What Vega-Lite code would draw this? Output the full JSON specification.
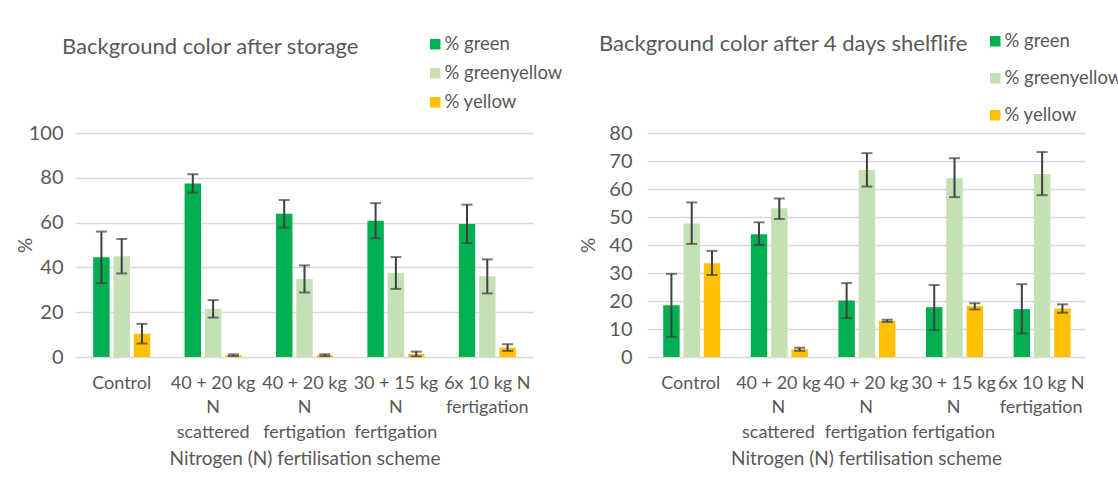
{
  "$schema": "https://vega.github.io/schema/vega-lite/v6.json",
  "padding": {"left": 16, "top": 32, "right": 0, "bottom": 0},
  "background": "white",
  "datasets": {
    "storage": [
      {"scheme": "Control", "series": "% green", "value": 44.5, "lo": 33, "hi": 56},
      {"scheme": "Control", "series": "% greenyellow", "value": 45, "lo": 37.3, "hi": 52.7},
      {"scheme": "Control", "series": "% yellow", "value": 10.4, "lo": 6, "hi": 14.8},
      {"scheme": "40 + 20 kg N scattered", "series": "% green", "value": 77.5, "lo": 73.4, "hi": 81.6},
      {"scheme": "40 + 20 kg N scattered", "series": "% greenyellow", "value": 21.5, "lo": 17.6, "hi": 25.4},
      {"scheme": "40 + 20 kg N scattered", "series": "% yellow", "value": 0.8, "lo": 0.4, "hi": 1.2},
      {"scheme": "40 + 20 kg N fertigation", "series": "% green", "value": 63.9, "lo": 57.7, "hi": 70.1},
      {"scheme": "40 + 20 kg N fertigation", "series": "% greenyellow", "value": 34.8, "lo": 28.8, "hi": 40.9},
      {"scheme": "40 + 20 kg N fertigation", "series": "% yellow", "value": 0.8, "lo": 0.4, "hi": 1.2},
      {"scheme": "30 + 15 kg N fertigation", "series": "% green", "value": 60.8, "lo": 53, "hi": 68.7},
      {"scheme": "30 + 15 kg N fertigation", "series": "% greenyellow", "value": 37.5, "lo": 30.4, "hi": 44.6},
      {"scheme": "30 + 15 kg N fertigation", "series": "% yellow", "value": 1.3, "lo": 0.3, "hi": 2.4},
      {"scheme": "6x 10 kg N fertigation", "series": "% green", "value": 59.4, "lo": 50.9, "hi": 68},
      {"scheme": "6x 10 kg N fertigation", "series": "% greenyellow", "value": 36, "lo": 28.4, "hi": 43.6},
      {"scheme": "6x 10 kg N fertigation", "series": "% yellow", "value": 4.2, "lo": 2.7, "hi": 5.7}
    ],
    "shelf": [
      {"scheme": "Control", "series": "% green", "value": 18.5, "lo": 7.2, "hi": 29.7},
      {"scheme": "Control", "series": "% greenyellow", "value": 47.7, "lo": 40.4, "hi": 55.2},
      {"scheme": "Control", "series": "% yellow", "value": 33.5, "lo": 29.3, "hi": 37.9},
      {"scheme": "40 + 20 kg N scattered", "series": "% green", "value": 43.8, "lo": 40, "hi": 48.1},
      {"scheme": "40 + 20 kg N scattered", "series": "% greenyellow", "value": 53.1, "lo": 49.3, "hi": 56.6},
      {"scheme": "40 + 20 kg N scattered", "series": "% yellow", "value": 2.8, "lo": 2.2, "hi": 3.3},
      {"scheme": "40 + 20 kg N fertigation", "series": "% green", "value": 20.2, "lo": 13.9, "hi": 26.4},
      {"scheme": "40 + 20 kg N fertigation", "series": "% greenyellow", "value": 66.8, "lo": 60.9, "hi": 72.8},
      {"scheme": "40 + 20 kg N fertigation", "series": "% yellow", "value": 12.9, "lo": 12.5, "hi": 13.3},
      {"scheme": "30 + 15 kg N fertigation", "series": "% green", "value": 17.8, "lo": 9.6, "hi": 25.7},
      {"scheme": "30 + 15 kg N fertigation", "series": "% greenyellow", "value": 63.8, "lo": 57.1, "hi": 71},
      {"scheme": "30 + 15 kg N fertigation", "series": "% yellow", "value": 18.2, "lo": 17, "hi": 19.2},
      {"scheme": "6x 10 kg N fertigation", "series": "% green", "value": 17.1, "lo": 8.4, "hi": 26},
      {"scheme": "6x 10 kg N fertigation", "series": "% greenyellow", "value": 65.4, "lo": 57.8, "hi": 73.2},
      {"scheme": "6x 10 kg N fertigation", "series": "% yellow", "value": 17.3, "lo": 15.8, "hi": 18.8}
    ]
  },
  "config": {
    "font": "Lato",
    "view": {"stroke": null},
    "axis": {"labelFont": "Lato", "titleFont": "Lato", "labelColor": "#595959", "titleColor": "#595959", "titleFontWeight": "normal"},
    "legend": {"labelFont": "Lato", "labelColor": "#595959"},
    "title": {"font": "Lato", "color": "#595959", "fontWeight": "normal", "fontSize": 22, "anchor": "start", "frame": "group"}
  },
  "spacing": 16,
  "resolve": {"scale": {"color": "independent"}, "legend": {"color": "independent"}},
  "hconcat": [
    {
      "title": {"text": "Background color after storage", "dx": -14, "dy": 28},
      "width": 457,
      "height": 224,
      "data": {"name": "storage"},
      "encoding": {
        "x": {
          "field": "scheme", "type": "nominal",
          "sort": ["Control", "40 + 20 kg N scattered", "40 + 20 kg N fertigation", "30 + 15 kg N fertigation", "6x 10 kg N fertigation"],
          "scale": {"paddingInner": 0.376, "paddingOuter": 0.188},
          "title": "Nitrogen (N) fertilisation scheme",
          "axis": {
            "labelAngle": 0, "domain": false, "ticks": false, "labelFontSize": 18, "titleFontSize": 19,
            "labelPadding": 17, "titlePadding": 8, "labelLineHeight": 24.5,
            "labelExpr": "datum.value == 'Control' ? 'Control' : datum.value == '40 + 20 kg N scattered' ? ['40 + 20 kg', 'N', 'scattered'] : datum.value == '40 + 20 kg N fertigation' ? ['40 + 20 kg', 'N', 'fertigation'] : datum.value == '30 + 15 kg N fertigation' ? ['30 + 15 kg', 'N', 'fertigation'] : ['6x 10 kg N', 'fertigation']"
          }
        },
        "xOffset": {"field": "series", "type": "nominal", "sort": ["% green", "% greenyellow", "% yellow"], "scale": {"paddingInner": 0.19}}
      },
      "layer": [
        {
          "mark": {"type": "bar"},
          "encoding": {
            "y": {"field": "value", "type": "quantitative", "title": "%",
              "scale": {"domain": [0, 100]},
              "axis": {"values": [0, 20, 40, 60, 80, 100], "labelOverlap": false, "domain": false, "ticks": false, "gridColor": "#D9D9D9", "gridWidth": 1.5, "labelFontSize": 20, "labelPadding": 13, "titleFontSize": 19, "titlePadding": -7}},
            "color": {"field": "series", "type": "nominal",
              "scale": {"domain": ["% green", "% greenyellow", "% yellow"], "range": ["#00B050", "#C5E0B4", "#FFC000"]},
              "legend": {"orient": "none", "legendX": 350, "legendY": -98, "title": null, "symbolType": "square", "symbolSize": 110, "symbolStrokeWidth": 0, "labelFontSize": 18.5, "labelOffset": 0, "rowPadding": 10}}
          }
        },
        {
          "mark": {"type": "rule", "color": "#404040", "strokeWidth": 2},
          "encoding": {"y": {"field": "lo", "type": "quantitative", "title": "%",
              "axis": {"values": [0, 20, 40, 60, 80, 100], "labelOverlap": false, "domain": false, "ticks": false, "gridColor": "#D9D9D9", "gridWidth": 1.5, "labelFontSize": 20, "labelPadding": 13, "titleFontSize": 19, "titlePadding": -7}}, "y2": {"field": "hi"}}
        },
        {
          "mark": {"type": "tick", "color": "#404040", "thickness": 2, "size": 11},
          "encoding": {"y": {"field": "lo", "type": "quantitative", "title": "%",
              "axis": {"values": [0, 20, 40, 60, 80, 100], "labelOverlap": false, "domain": false, "ticks": false, "gridColor": "#D9D9D9", "gridWidth": 1.5, "labelFontSize": 20, "labelPadding": 13, "titleFontSize": 19, "titlePadding": -7}}}
        },
        {
          "mark": {"type": "tick", "color": "#404040", "thickness": 2, "size": 11},
          "encoding": {"y": {"field": "hi", "type": "quantitative", "title": "%",
              "axis": {"values": [0, 20, 40, 60, 80, 100], "labelOverlap": false, "domain": false, "ticks": false, "gridColor": "#D9D9D9", "gridWidth": 1.5, "labelFontSize": 20, "labelPadding": 13, "titleFontSize": 19, "titlePadding": -7}}}
        }
      ]
    },
    {
      "title": {"text": "Background color after 4 days shelflife", "dx": -48, "dy": 28},
      "width": 438,
      "height": 224,
      "data": {"name": "shelf"},
      "encoding": {
        "x": {
          "field": "scheme", "type": "nominal",
          "sort": ["Control", "40 + 20 kg N scattered", "40 + 20 kg N fertigation", "30 + 15 kg N fertigation", "6x 10 kg N fertigation"],
          "scale": {"paddingInner": 0.37, "paddingOuter": 0.185},
          "title": "Nitrogen (N) fertilisation scheme",
          "axis": {
            "labelAngle": 0, "domain": false, "ticks": false, "labelFontSize": 18, "titleFontSize": 19,
            "labelPadding": 17, "titlePadding": 8, "labelLineHeight": 24.5,
            "labelExpr": "datum.value == 'Control' ? 'Control' : datum.value == '40 + 20 kg N scattered' ? ['40 + 20 kg', 'N', 'scattered'] : datum.value == '40 + 20 kg N fertigation' ? ['40 + 20 kg', 'N', 'fertigation'] : datum.value == '30 + 15 kg N fertigation' ? ['30 + 15 kg', 'N', 'fertigation'] : ['6x 10 kg N', 'fertigation']"
          }
        },
        "xOffset": {"field": "series", "type": "nominal", "sort": ["% green", "% greenyellow", "% yellow"], "scale": {"paddingInner": 0.19}}
      },
      "layer": [
        {
          "mark": {"type": "bar"},
          "encoding": {
            "y": {"field": "value", "type": "quantitative", "title": "%",
              "scale": {"domain": [0, 80]},
              "axis": {"values": [0, 10, 20, 30, 40, 50, 60, 70, 80], "labelOverlap": false, "domain": false, "ticks": false, "gridColor": "#D9D9D9", "gridWidth": 1.5, "labelFontSize": 20, "labelPadding": 15, "titleFontSize": 19, "titlePadding": 10}},
            "color": {"field": "series", "type": "nominal",
              "scale": {"domain": ["% green", "% greenyellow", "% yellow"], "range": ["#00B050", "#C5E0B4", "#FFC000"]},
              "legend": {"orient": "none", "legendX": 339, "legendY": -101, "title": null, "symbolType": "square", "symbolSize": 110, "symbolStrokeWidth": 0, "labelFontSize": 18.5, "labelOffset": 0, "rowPadding": 18}}
          }
        },
        {
          "mark": {"type": "rule", "color": "#404040", "strokeWidth": 2},
          "encoding": {"y": {"field": "lo", "type": "quantitative", "title": "%",
              "axis": {"values": [0, 10, 20, 30, 40, 50, 60, 70, 80], "labelOverlap": false, "domain": false, "ticks": false, "gridColor": "#D9D9D9", "gridWidth": 1.5, "labelFontSize": 20, "labelPadding": 15, "titleFontSize": 19, "titlePadding": 10}}, "y2": {"field": "hi"}}
        },
        {
          "mark": {"type": "tick", "color": "#404040", "thickness": 2, "size": 11},
          "encoding": {"y": {"field": "lo", "type": "quantitative", "title": "%",
              "axis": {"values": [0, 10, 20, 30, 40, 50, 60, 70, 80], "labelOverlap": false, "domain": false, "ticks": false, "gridColor": "#D9D9D9", "gridWidth": 1.5, "labelFontSize": 20, "labelPadding": 15, "titleFontSize": 19, "titlePadding": 10}}}
        },
        {
          "mark": {"type": "tick", "color": "#404040", "thickness": 2, "size": 11},
          "encoding": {"y": {"field": "hi", "type": "quantitative", "title": "%",
              "axis": {"values": [0, 10, 20, 30, 40, 50, 60, 70, 80], "labelOverlap": false, "domain": false, "ticks": false, "gridColor": "#D9D9D9", "gridWidth": 1.5, "labelFontSize": 20, "labelPadding": 15, "titleFontSize": 19, "titlePadding": 10}}}
        }
      ]
    }
  ]
}
